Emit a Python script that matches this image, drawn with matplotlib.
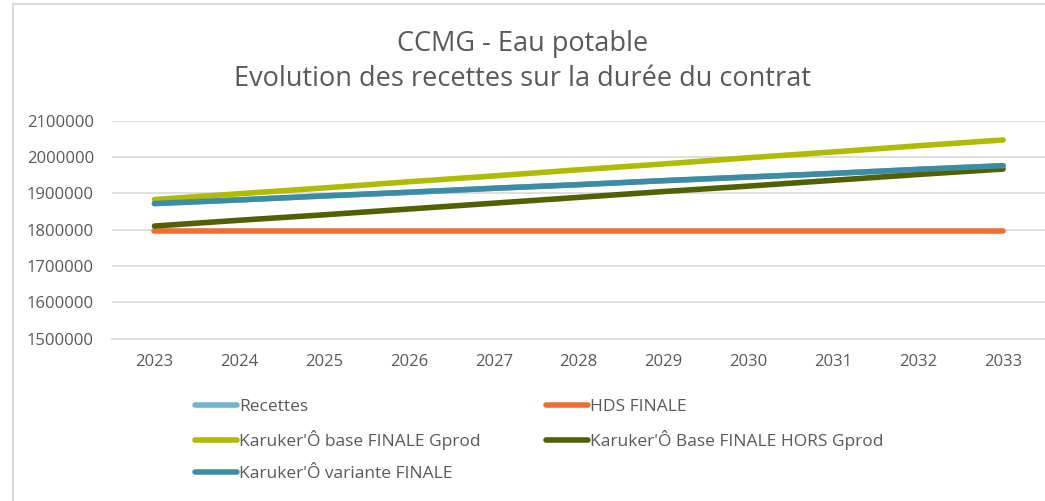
import matplotlib
matplotlib.use("Agg")
import matplotlib.pyplot as plt
from matplotlib.lines import Line2D
from matplotlib.patches import Rectangle

years = ["2023", "2024", "2025", "2026", "2027", "2028", "2029", "2030", "2031", "2032", "2033"]
recettes = [1872000, 1882000, 1893000, 1903000, 1914000, 1924000, 1935000, 1945000, 1955000, 1966000, 1976000]
hds_finale = [1797000] * 11
base_gprod = [1883000, 1899000, 1915000, 1932000, 1948000, 1965000, 1981000, 1998000, 2014000, 2031000, 2047000]
base_hors_gprod = [1810000, 1826000, 1841000, 1857000, 1873000, 1889000, 1905000, 1920000, 1936000, 1952000, 1967000]
variante = [1872000, 1882000, 1893000, 1903000, 1914000, 1924000, 1935000, 1945000, 1955000, 1966000, 1976000]
y_ticks = [1500000, 1600000, 1700000, 1800000, 1900000, 2000000, 2100000]

names = ["Recettes", "HDS FINALE", "Karuker'Ô base FINALE Gprod",
         "Karuker'Ô Base FINALE HORS Gprod", "Karuker'Ô variante FINALE"]
colors = ["#72B4CB", "#ED7032", "#AFBB00", "#516000", "#3E8BA4"]
series = [recettes, hds_finale, base_gprod, base_hors_gprod, variante]

FONT = "Open Sans"
TXT = "#595959"
plt.rcParams["font.family"] = [FONT, "DejaVu Sans"]

W, H = 1045, 501
fig = plt.figure(figsize=(W / 100, H / 100), dpi=100)

def fx(px):
    return px / W

def fy(py):
    return 1 - py / H

# chart border
fig.patches.append(Rectangle((fx(13), fy(540)), fx(1100), 536 / H, transform=fig.transFigure,
                             fill=False, edgecolor="#D9D9D9", linewidth=1.5))

ax = fig.add_axes([fx(112), fy(338.7), fx(1045.5) - fx(112), (338.7 - 120.7) / H])
x = list(range(len(years)))
for name, vals, c in zip(names, series, colors):
    ax.plot(x, vals, color=c, linewidth=4.0, solid_capstyle="round", label=name)

ax.set_xlim(-0.5, len(years) - 0.5)
ax.set_ylim(1500000, 2100000)
ax.set_yticks(y_ticks)
ax.set_yticklabels([str(v) for v in y_ticks])
ax.set_xticks(x)
ax.set_xticklabels(years)
ax.grid(axis="y", color="#D9D9D9", linewidth=1.2)
ax.set_axisbelow(True)
for s in ["top", "right", "left"]:
    ax.spines[s].set_visible(False)
ax.spines["bottom"].set_color("#D9D9D9")
ax.spines["bottom"].set_linewidth(1.2)
ax.tick_params(axis="both", length=0, colors=TXT, labelsize=12)
ax.tick_params(axis="x", pad=11)
ax.tick_params(axis="y", pad=13)

fig.text(0.5, fy(43.5), "CCMG - Eau potable", ha="center", va="center", fontsize=19.5, color=TXT)
fig.text(0.5, fy(78.5), "Evolution des recettes sur la durée du contrat", ha="center", va="center",
         fontsize=19.5, color=TXT)

def lh(i):
    return Line2D([], [], color=colors[i], linewidth=4.0, solid_capstyle="round")

leg_kw = dict(frameon=False, fontsize=12.5, labelcolor=TXT, handlelength=2.4, handletextpad=0.15,
              labelspacing=0.88, borderaxespad=0, borderpad=0)
fig.legend([lh(0), lh(2), lh(4)], [names[0], names[2], names[4]], loc="upper left",
           bbox_to_anchor=(fx(195), fy(399)), **leg_kw)
fig.legend([lh(1), lh(3)], [names[1], names[3]], loc="upper left",
           bbox_to_anchor=(fx(546), fy(399)), **leg_kw)

fig.savefig("out.png", dpi=100)
